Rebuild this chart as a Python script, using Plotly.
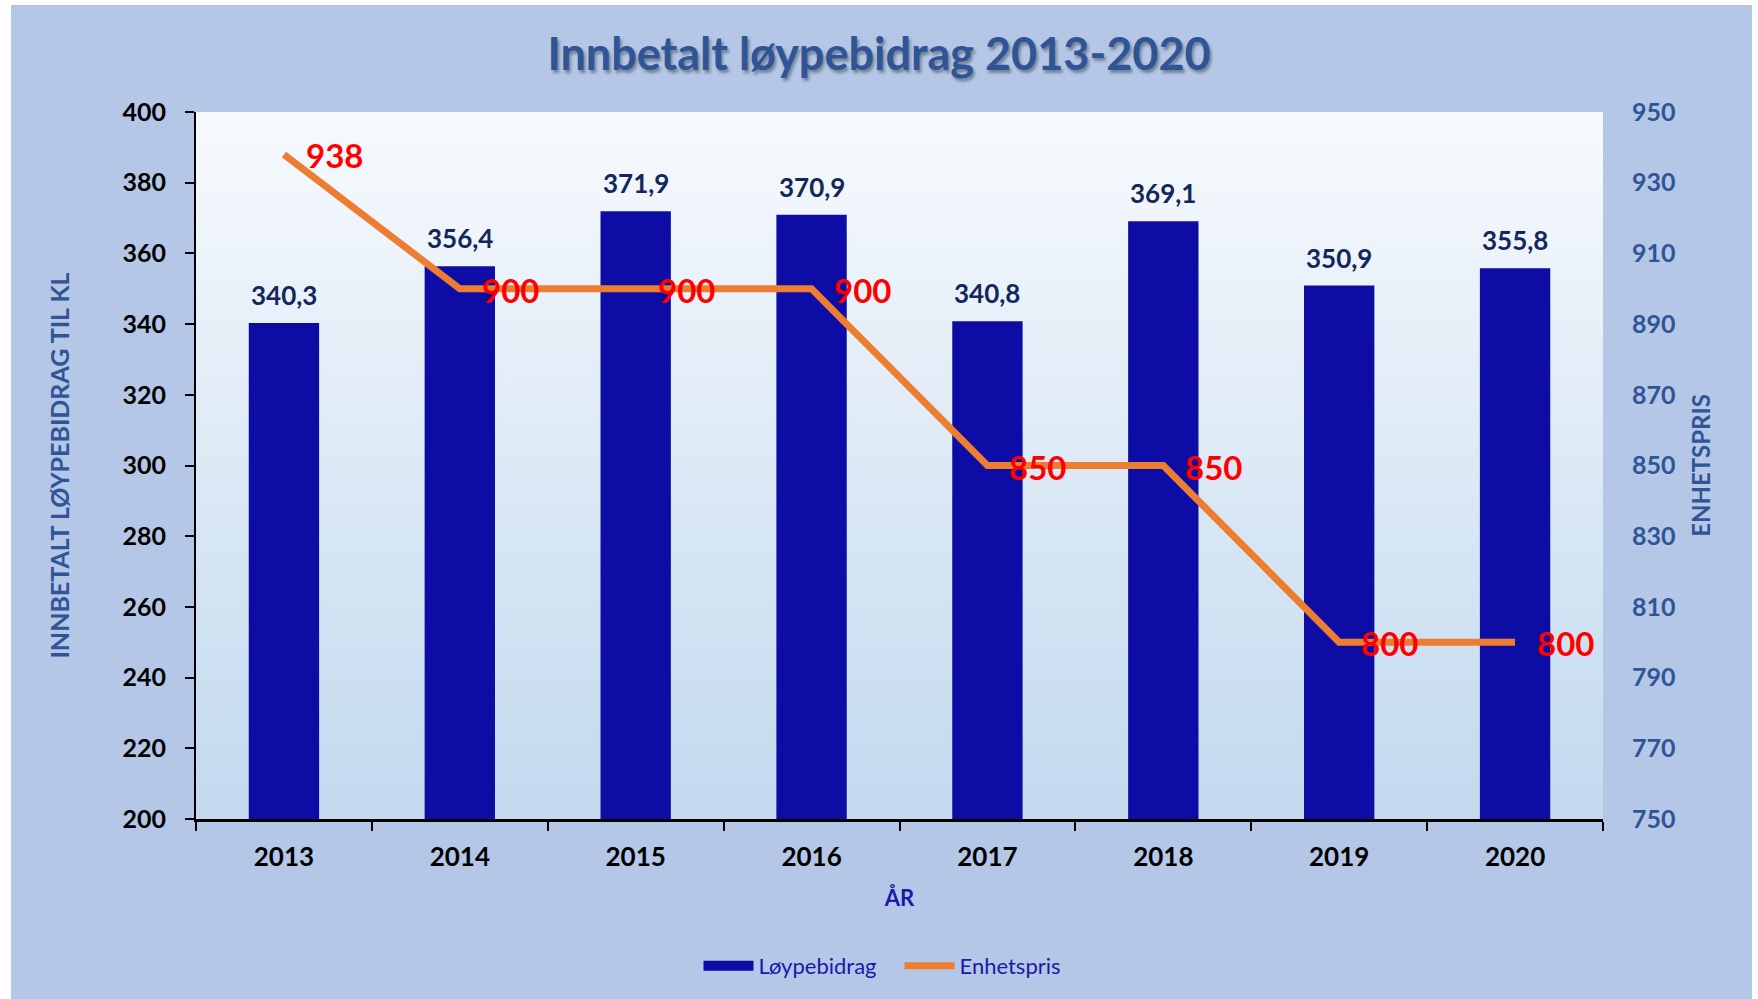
import base64
import plotly.graph_objects as go

# ---------------- data ----------------
years = ["2013", "2014", "2015", "2016", "2017", "2018", "2019", "2020"]
loypebidrag = [340.3, 356.4, 371.9, 370.9, 340.8, 369.1, 350.9, 355.8]
enhetspris = [938, 900, 900, 900, 850, 850, 800, 800]

left_ticks = list(range(200, 401, 20))
right_ticks = list(range(750, 951, 20))

# ---------------- style ----------------
FONT = "Lato"
BG = "#b4c7e7"
AXIS_BLUE = "#2f5597"
BAR = "#0d0ca5"
LINE = "#ed7d31"
LABEL_NAVY = "#13275c"
LEGEND_TXT = "#1a1aa8"

W, H = 1758, 999
L, R, T, B = 196, 155, 112, 180
pw, ph = W - L - R, H - T - B


def svg_uri(svg):
    return "data:image/svg+xml;base64," + base64.b64encode(svg.encode()).decode()


grad_svg = (
    '<svg xmlns="http://www.w3.org/2000/svg" width="100" height="100" preserveAspectRatio="none">'
    '<defs><linearGradient id="g" x1="0" y1="0" x2="0" y2="1">'
    '<stop offset="0" stop-color="#f7fafd"/><stop offset="1" stop-color="#c2d9ee"/>'
    '</linearGradient></defs><rect width="100" height="100" fill="url(#g)"/></svg>'
)
bg_svg = (
    '<svg xmlns="http://www.w3.org/2000/svg" width="100" height="100" preserveAspectRatio="none">'
    f'<rect width="100" height="100" fill="{BG}"/></svg>'
)

# outer blue panel (white frame around it)
ox0, ox1, oy0, oy1 = 11, 1752, 5, 999
images = [
    dict(source=svg_uri(bg_svg), xref="paper", yref="paper",
         x=(ox0 - L) / pw, y=(H - B - oy0) / ph,
         sizex=(ox1 - ox0) / pw, sizey=(oy1 - oy0) / ph,
         xanchor="left", yanchor="top", sizing="stretch", layer="below"),
    dict(source=svg_uri(grad_svg), xref="paper", yref="paper",
         x=0, y=1, sizex=1, sizey=1, xanchor="left", yanchor="top",
         sizing="stretch", layer="below"),
]

fig = go.Figure()
fig.add_trace(go.Bar(
    x=years, y=loypebidrag, name="Løypebidrag",
    marker=dict(color=BAR, line=dict(width=0)), width=0.4,
    yaxis="y", showlegend=False,
))
# legend entry for the bars (wide rectangular swatch)
fig.add_trace(go.Scatter(
    x=[None], y=[None], name="Løypebidrag", mode="lines",
    line=dict(color=BAR, width=15), yaxis="y",
))
fig.add_trace(go.Scatter(
    x=years, y=enhetspris, name="Enhetspris", mode="lines",
    line=dict(color=LINE, width=7), yaxis="y2",
))

annotations = []
for i, v in enumerate(loypebidrag):
    annotations.append(dict(
        x=i, y=v, xref="x", yref="y", text=f"{v:.1f}".replace(".", ","),
        showarrow=False, xanchor="center", yanchor="bottom", yshift=10,
        font=dict(family=FONT, size=26, color=LABEL_NAVY, weight="bold"),
    ))
for i, p in enumerate(enhetspris):
    annotations.append(dict(
        x=i, y=p, xref="x", yref="y2", text=str(p),
        showarrow=False, xanchor="left", yanchor="middle", xshift=20, yshift=-1,
        font=dict(family=FONT, size=33, color="#ff0000", weight="bold"),
    ))

fig.update_layout(
    width=W, height=H,
    margin=dict(l=L, r=R, t=T, b=B, autoexpand=False),
    paper_bgcolor="white",
    plot_bgcolor="rgba(0,0,0,0)",
    images=images,
    separators=",.",
    title=dict(
        text="Innbetalt løypebidrag 2013-2020",
        x=0.5, xref="container", xanchor="center",
        y=1 - 54 / H, yref="container", yanchor="middle",
        font=dict(family=FONT, size=45, color=AXIS_BLUE, weight="bold",
                  shadow="2px 3px 3px rgba(0,0,0,0.35)"),
    ),
    xaxis=dict(
        type="category", range=[-0.5, len(years) - 0.5],
        showline=True, linecolor="black", linewidth=2.5,
        ticks="outside", tickson="boundaries", ticklen=9, tickwidth=2, tickcolor="black",
        tickfont=dict(family=FONT, size=26, color="black", weight="bold"),
        ticklabelstandoff=13,
        showgrid=False, zeroline=False,
        title=dict(text="ÅR", standoff=20,
                   font=dict(family=FONT, size=22, color=LEGEND_TXT, weight="bold")),
    ),
    yaxis=dict(
        range=[200, 400], tickvals=left_ticks,
        showline=True, linecolor="black", linewidth=2,
        ticks="outside", ticklen=9, tickwidth=2, tickcolor="black",
        tickfont=dict(family=FONT, size=25, color="black", weight="bold"),
        ticklabelstandoff=14,
        showgrid=False, zeroline=False,
        title=dict(text="INNBETALT LØYPEBIDRAG TIL KL", standoff=46,
                   font=dict(family=FONT, size=25, color=AXIS_BLUE, weight="bold")),
    ),
    yaxis2=dict(
        range=[750, 950], tickvals=right_ticks, overlaying="y", side="right",
        showline=False, ticks="", showgrid=False, zeroline=False,
        tickfont=dict(family=FONT, size=25, color=AXIS_BLUE, weight="bold"),
        ticklabelstandoff=28,
        title=dict(text="ENHETSPRIS", standoff=18,
                   font=dict(family=FONT, size=24, color=AXIS_BLUE, weight="bold")),
    ),
    legend=dict(
        orientation="h", x=0.50, xanchor="center",
        y=(H - B - 966) / ph, yanchor="middle", yref="paper",
        bgcolor="rgba(0,0,0,0)",
        font=dict(family=FONT, size=22, color=LEGEND_TXT),
        itemwidth=50, traceorder="normal", entrywidth=136,
    ),
    annotations=annotations,
    showlegend=True,
)

fig.write_html("out.html")
